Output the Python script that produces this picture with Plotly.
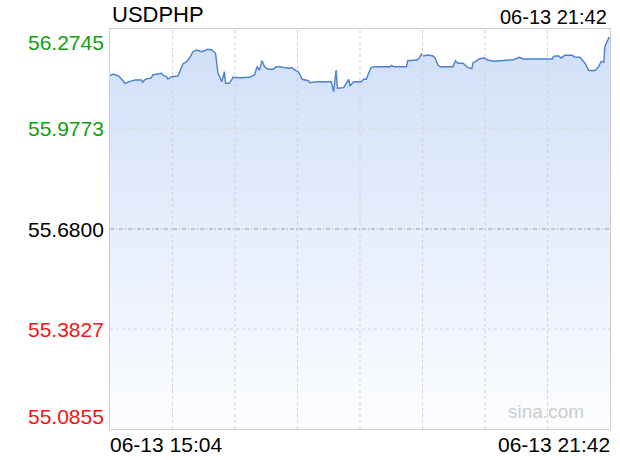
import plotly.graph_objects as go

# ---- data ----
symbol = "USDPHP"
date_label = "06-13"
start_time = "15:04"
end_time = "21:42"
prev_close = 55.6800
y_ticks = [55.0855, 55.3827, 55.6800, 55.9773, 56.2745]
y_tick_labels = ["55.0855", "55.3827", "55.6800", "55.9773", "56.2745"]

times = ["15:04", "15:07", "15:11", "15:13", "15:16", "15:20", "15:24", "15:29", "15:30", "15:32",
         "15:37", "15:38", "15:42", "15:45", "15:47", "15:49", "15:50", "15:53", "15:58", "16:00",
         "16:02", "16:05", "16:08", "16:10", "16:13", "16:17", "16:20", "16:22", "16:25", "16:28",
         "16:30", "16:33", "16:35", "16:36", "16:39", "16:42", "16:47", "16:55", "16:59", "17:01",
         "17:03", "17:05", "17:07", "17:10", "17:14", "17:16", "17:19", "17:26", "17:29", "17:31",
         "17:34", "17:37", "17:42", "17:43", "17:49", "17:59", "18:00", "18:02", "18:04", "18:05",
         "18:10", "18:12", "18:14", "18:15", "18:18", "18:22", "18:24", "18:26", "18:28", "18:30",
         "18:32", "18:35", "18:47", "18:48", "18:50", "19:00", "19:01", "19:08", "19:10", "19:12",
         "19:13", "19:17", "19:21", "19:23", "19:25", "19:27", "19:37", "19:39", "19:41", "19:45",
         "19:47", "19:49", "19:52", "19:53", "19:56", "19:58", "20:02", "20:05", "20:10", "20:18",
         "20:25", "20:30", "20:33", "20:41", "20:52", "20:56", "20:57", "21:01", "21:03", "21:06",
         "21:12", "21:14", "21:18", "21:20", "21:22", "21:25", "21:29", "21:31", "21:33", "21:35",
         "21:37", "21:38", "21:40", "21:41", "21:42"]

values = [56.1378, 56.1399, 56.1348, 56.1250, 56.1131, 56.1190, 56.1229, 56.1229, 56.1161, 56.1250,
          56.1297, 56.1378, 56.1399, 56.1428, 56.1348, 56.1327, 56.1259, 56.1327, 56.1348, 56.1547,
          56.1705, 56.1773, 56.1922, 56.2070, 56.2121, 56.2070, 56.2121, 56.2142, 56.2121, 56.2023,
          56.1428, 56.1179, 56.1476, 56.1131, 56.1131, 56.1309, 56.1297, 56.1309, 56.1378, 56.1624,
          56.1526, 56.1803, 56.1624, 56.1547, 56.1547, 56.1624, 56.1624, 56.1577, 56.1595, 56.1526,
          56.1476, 56.1250, 56.1208, 56.1149, 56.1179, 56.1179, 56.1179, 56.0881, 56.1526, 56.0982,
          56.1000, 56.1131, 56.1250, 56.1051, 56.1179, 56.1179, 56.1179, 56.1250, 56.1250, 56.1446,
          56.1607, 56.1624, 56.1624, 56.1666, 56.1624, 56.1624, 56.1803, 56.1824, 56.1874, 56.2002,
          56.1942, 56.1972, 56.1942, 56.1874, 56.1675, 56.1624, 56.1624, 56.1803, 56.1725, 56.1725,
          56.1645, 56.1595, 56.1565, 56.1743, 56.1803, 56.1862, 56.1883, 56.1815, 56.1785, 56.1815,
          56.1832, 56.1904, 56.1853, 56.1853, 56.1853, 56.1853, 56.1934, 56.1951, 56.1883, 56.1963,
          56.1963, 56.1913, 56.1904, 56.1832, 56.1734, 56.1517, 56.1506, 56.1535, 56.1636, 56.1785,
          56.1755, 56.2231, 56.2379, 56.2477, 56.2498]

# ---- helpers ----
def to_min(t):
    h, m = t.split(":")
    return int(h) * 60 + int(m)

t0 = to_min(start_time)
t1 = to_min(end_time)
xs = [to_min(t) - t0 for t in times]
span = t1 - t0

y_lo, y_hi = y_ticks[0], y_ticks[-1]
font_family = "Liberation Sans, Arial, sans-serif"

fig = go.Figure()
# baseline for the fill
fig.add_trace(go.Scatter(x=[0, span], y=[y_lo, y_lo], mode="lines",
                         line=dict(width=0), hoverinfo="skip", showlegend=False))
fig.add_trace(go.Scatter(
    x=xs, y=values, mode="lines",
    line=dict(color="#4a7fd3", width=1.4),
    fill="tonexty",
    fillgradient=dict(type="vertical",
                      colorscale=[[0, "#fcfdff"], [1, "#cfdef8"]],
                      start=y_lo, stop=y_hi),
    showlegend=False,
))

# dotted grid drawn above the fill
for i in range(1, 8):
    xv = span * i / 8
    fig.add_shape(type="line", xref="x", yref="y", x0=xv, x1=xv, y0=y_lo, y1=y_hi,
                  line=dict(color="#cfcfcf", width=1, dash="dot"), layer="above")
for v in (y_ticks[1], y_ticks[3]):
    fig.add_shape(type="line", xref="x", yref="y", x0=0, x1=span, y0=v, y1=v,
                  line=dict(color="#d6d6d6", width=1, dash="dot"), layer="above")
# previous close line
fig.add_shape(type="line", xref="x", yref="y", x0=0, x1=span, y0=prev_close, y1=prev_close,
              line=dict(color="#9a9aa8", width=1, dash="4px,2px,1px,2px"), layer="above")

label_colors = ["#f01414", "#f01414", "#000000", "#10a010", "#10a010"]
yshifts = [13, 0, 0, 0, -13]
annotations = []
for v, lab, c, ys in zip(y_ticks, y_tick_labels, label_colors, yshifts):
    annotations.append(dict(xref="paper", yref="y", x=0, y=v, xanchor="right", yanchor="middle",
                            xshift=-4, yshift=ys, text=lab, showarrow=False,
                            font=dict(family=font_family, size=21, color=c)))

annotations += [
    dict(xref="paper", yref="paper", x=0, y=1, xanchor="left", yanchor="middle",
         xshift=0, yshift=15, text=symbol, showarrow=False,
         font=dict(family=font_family, size=22, color="#000")),
    dict(xref="paper", yref="paper", x=1, y=1, xanchor="right", yanchor="middle",
         xshift=-1, yshift=12, text=f"{date_label} {end_time}", showarrow=False,
         font=dict(family=font_family, size=20, color="#000")),
    dict(xref="paper", yref="paper", x=0, y=0, xanchor="left", yanchor="middle",
         xshift=-2, yshift=-15, text=f"{date_label} {start_time}", showarrow=False,
         font=dict(family=font_family, size=21, color="#000")),
    dict(xref="paper", yref="paper", x=1, y=0, xanchor="right", yanchor="middle",
         xshift=2, yshift=-15, text=f"{date_label} {end_time}", showarrow=False,
         font=dict(family=font_family, size=21, color="#000")),
    dict(xref="paper", yref="paper", x=1, y=0, xanchor="right", yanchor="middle",
         xshift=-24, yshift=18, text="sina.com", showarrow=False,
         font=dict(family=font_family, size=19, color="#cccccc")),
]

fig.update_layout(
    width=620, height=460,
    margin=dict(l=110, r=10, t=29, b=31),
    paper_bgcolor="white", plot_bgcolor="white",
    annotations=annotations,
    xaxis=dict(range=[0, span], showticklabels=False, ticks="", showgrid=False, zeroline=False,
               showline=True, mirror=True, linecolor="#d0d0d0", linewidth=1),
    yaxis=dict(range=[y_lo, y_hi], showticklabels=False, ticks="", showgrid=False, zeroline=False,
               showline=True, mirror=True, linecolor="#d0d0d0", linewidth=1),
    hovermode=False,
)

fig.write_html("out.html", config={"displayModeBar": False},
               post_script="document.body.style.margin='0';document.body.style.overflow='hidden';")
